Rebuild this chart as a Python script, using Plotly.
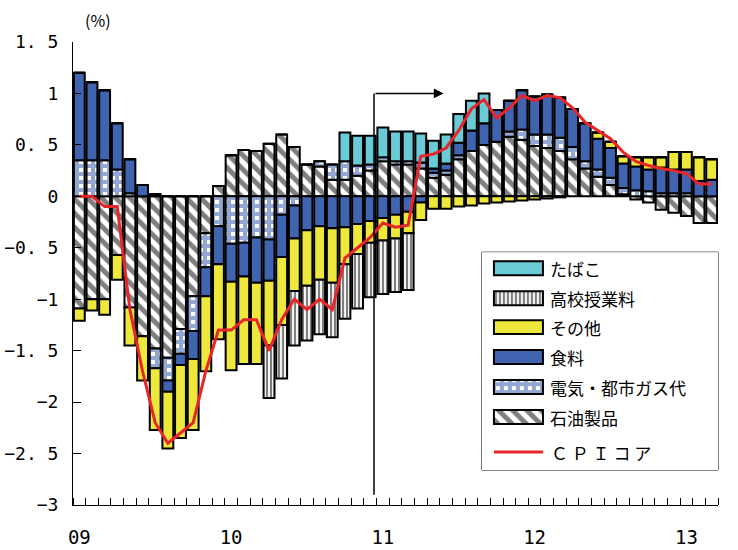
import plotly.graph_objects as go

# Monthly contributions to the year-on-year change of core CPI (percentage points)
months = [f"{y}-{m:02d}" for y in range(2009, 2014) for m in range(1, 13)][:51]

oil = [-1.09, -1.00, -1.00, -0.57, -1.08, -1.36, -1.48, -1.57, -1.29, -0.97, -0.36, 0.10,
       0.40, 0.45, 0.44, 0.51, 0.60, 0.48, 0.31, 0.29, 0.16, 0.16, 0.20, 0.25,
       0.34, 0.31, 0.31, 0.27, 0.18, 0.21, 0.36, 0.44, 0.50, 0.53, 0.58, 0.55,
       0.49, 0.47, 0.44, 0.36, 0.27, 0.19, 0.11, 0.02, -0.03, -0.06, -0.13, -0.16, -0.19, -0.26, -0.26]

elec = [0.35, 0.35, 0.35, 0.26, 0.03, 0.0, -0.19, -0.22, -0.24, -0.34, -0.33, -0.29,
        -0.46, -0.45, -0.40, -0.42, -0.18, -0.09, 0.0, 0.05, 0.15, 0.18, 0.10, 0.06,
        0.04, 0.03, 0.03, 0.06, 0.05, 0.04, 0.04, 0.0, 0.0, 0.0, 0.05, 0.10,
        0.11, 0.13, 0.13, 0.12, 0.07, 0.07, 0.07, 0.06, 0.06, 0.05, 0.03, 0.03, 0.03, 0.0, 0.0]

food = [0.85, 0.76, 0.68, 0.45, 0.33, 0.11, 0.02, -0.11, -0.11, -0.27, -0.28, -0.37,
        -0.37, -0.33, -0.44, -0.40, -0.41, -0.32, -0.33, -0.29, -0.31, -0.30, -0.27, -0.24,
        -0.21, -0.18, -0.15, -0.06, 0.04, 0.07, 0.12, 0.20, 0.21, 0.31, 0.30, 0.38,
        0.37, 0.39, 0.39, 0.37, 0.37, 0.30, 0.29, 0.24, 0.23, 0.21, 0.25, 0.23, 0.23, 0.15, 0.16]

other = [-0.12, -0.11, -0.15, -0.24, -0.37, -0.43, -0.60, -0.55, -0.71, -0.69, -0.73, -0.73,
         -0.86, -0.85, -0.79, -0.63, -0.66, -0.51, -0.54, -0.52, -0.53, -0.36, -0.29, -0.21,
         -0.22, -0.23, -0.21, -0.17, -0.12, -0.12, -0.10, -0.09, -0.07, -0.06, -0.05, -0.04,
         -0.03, -0.02, -0.01, 0.0, 0.0, 0.06, 0.06, 0.07, 0.09, 0.12, 0.10, 0.17, 0.17, 0.23, 0.20]

tuition = [0.0] * 15 + [-0.51, -0.52, -0.53, -0.53, -0.53, -0.53, -0.53, -0.53, -0.53,
                        -0.52, -0.52, -0.55] + [0.0] * 24

tobacco = [0.0] * 21 + [0.28, 0.29, 0.28, 0.29, 0.29, 0.29, 0.28, 0.27, 0.28, 0.28,
                        0.29, 0.29] + [0.0] * 18

core = [0.0, 0.0, -0.1, -0.1, -1.1, -1.7, -2.2, -2.4, -2.3, -2.2, -1.7, -1.3,
        -1.3, -1.2, -1.2, -1.5, -1.2, -1.0, -1.1, -1.0, -1.1, -0.6, -0.5, -0.4,
        -0.26, -0.30, -0.28, 0.39, 0.41, 0.47, 0.64, 0.85, 0.94, 0.76, 0.86, 0.98,
        0.93, 0.98, 0.96, 0.86, 0.72, 0.64, 0.56, 0.43, 0.34, 0.30, 0.27, 0.25, 0.22, 0.12, 0.12]

y_ticks = [1.5, 1.0, 0.5, 0.0, -0.5, -1.0, -1.5, -2.0, -2.5, -3.0]
y_labels = ["1. 5", "1", "0. 5", "0", "−0. 5", "−1", "−1. 5", "−2", "−2. 5", "−3"]

xpos = list(range(len(months)))
year_pos = [i for i, m in enumerate(months) if m.endswith("-01")]
year_txt = [months[i][2:4] for i in year_pos]

FONT = "Noto Sans CJK JP"
NUM_FONT = "DejaVu Sans Mono"
OUTLINE = dict(color="black", width=2)
RED = "#E8262A"

styles = {
    "石油製品": dict(color="white", pattern=dict(shape="\\", fgcolor="black", bgcolor="white",
                                               size=10, solidity=0.5)),
    "電気・都市ガス代": dict(color="white", pattern=dict(shape="+", fgcolor="#2A4DA6", bgcolor="white",
                                                   size=8, solidity=0.75)),
    "食料": dict(color="#4064B0"),
    "その他": dict(color="#EEE83C"),
    "高校授業料": dict(color="white", pattern=dict(shape="|", fgcolor="black", bgcolor="white",
                                               size=4, solidity=0.55)),
    "たばこ": dict(color="#6ACBD7"),
}
# stacking order outward from zero
stack = [("石油製品", oil), ("電気・都市ガス代", elec), ("食料", food),
         ("その他", other), ("高校授業料", tuition), ("たばこ", tobacco)]

fig = go.Figure()
for name, vals in stack:
    fig.add_trace(go.Bar(x=xpos, y=vals, name=name, showlegend=False,
                         marker=dict(**styles[name], line=OUTLINE)))

fig.add_trace(go.Scatter(x=xpos, y=core, name="ＣＰＩコア", mode="lines", showlegend=False,
                         line=dict(color=RED, width=3)))

# ---- hand-built legend on its own pixel-scaled axes ----
legend_rows = ["たばこ", "高校授業料", "その他", "食料", "電気・都市ガス代", "石油製品"]
row_y = [16, 46, 75, 105, 135, 165]
for name, ry in zip(legend_rows, row_y):
    fig.add_trace(go.Bar(x=[49], y=[ry], base=[12], width=[14], orientation="h",
                         xaxis="x2", yaxis="y2", showlegend=False, hoverinfo="skip",
                         marker=dict(**styles[name], line=OUTLINE)))
    fig.add_annotation(x=66, y=ry, xref="x2", yref="y2", text=name, showarrow=False,
                       xanchor="left", yanchor="middle", font=dict(size=17, family=FONT))
fig.add_trace(go.Scatter(x=[12, 61], y=[200, 200], mode="lines", xaxis="x2", yaxis="y2",
                         showlegend=False, hoverinfo="skip", line=dict(color=RED, width=3)))
fig.add_annotation(x=67, y=200, xref="x2", yref="y2", text="Ｃ Ｐ Ｉ コ ア", showarrow=False,
                   xanchor="left", yanchor="middle", font=dict(size=17, family=FONT))
fig.add_shape(type="rect", xref="paper", yref="paper", x0=0.634, x1=1.0, y0=0.0756, y1=0.546,
              line=dict(color="black", width=1), fillcolor="white", layer="below")

# base-year change marker
base_change = 23.3
fig.add_shape(type="line", xref="x", yref="y", x0=base_change, x1=base_change, y0=-2.9, y1=1.0,
              line=dict(color="black", width=1.5), layer="above")
fig.add_annotation(x=28.8, y=1.0, ax=base_change, ay=1.0, xref="x", yref="y", axref="x", ayref="y",
                   text="", showarrow=True, arrowhead=2, arrowsize=1.3, arrowwidth=1.5,
                   arrowcolor="black")

fig.add_annotation(x=0.0155, y=1.048, xref="paper", yref="paper", text="(%)", showarrow=False,
                   xanchor="left", yanchor="middle", font=dict(size=16, family=FONT))

fig.update_layout(
    width=738, height=550,
    margin=dict(l=73, r=20, t=42, b=45, autoexpand=False),
    plot_bgcolor="white", paper_bgcolor="white",
    barmode="relative", bargap=0.14,
    showlegend=False,
    font=dict(family=FONT, color="black"),
    xaxis=dict(range=[-0.5, 50.5], tickmode="array", tickvals=year_pos, ticktext=year_txt,
               ticks="", showline=True, linecolor="black", linewidth=1, automargin=False,
               showgrid=False, zeroline=False, tickfont=dict(size=19, family=NUM_FONT),
               ticklabelstandoff=15,
               minor=dict(tickmode="array", tickvals=[k - 0.5 for k in range(52)],
                          ticks="inside", ticklen=7, tickcolor="black", tickwidth=1,
                          showgrid=False)),
    yaxis=dict(range=[-3, 1.5], tickmode="array", tickvals=y_ticks, ticktext=y_labels,
               ticks="inside", ticklen=8, tickcolor="black", showline=True, linecolor="black",
               linewidth=1, showgrid=False, zeroline=False, automargin=False,
               tickfont=dict(size=18, family=NUM_FONT), ticklabelstandoff=10),
    xaxis2=dict(domain=[0.634, 1.0], range=[0, 236], anchor="y2", visible=False, fixedrange=True),
    yaxis2=dict(domain=[0.0756, 0.546], range=[218, 0], anchor="x2", visible=False, fixedrange=True),
)

fig.write_html("out.html")
